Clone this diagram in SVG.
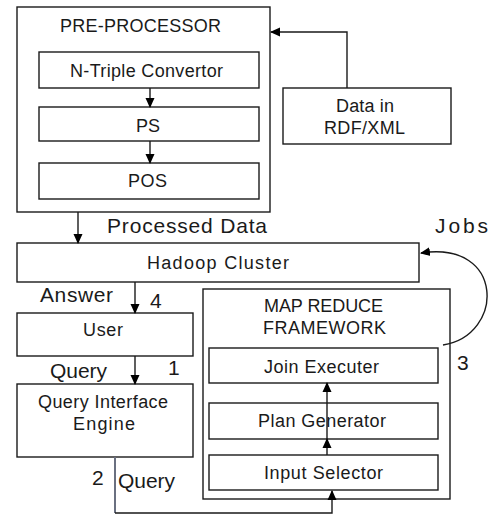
<svg xmlns="http://www.w3.org/2000/svg" width="491" height="515" viewBox="0 0 491 515">
<defs>
<marker id="ah" markerWidth="10" markerHeight="10" refX="9" refY="4.5" orient="auto" markerUnits="userSpaceOnUse" viewBox="0 0 10 9">
<path d="M0,0 L10,4.5 L0,9 z" fill="#000"/>
</marker>
<style>
.box{fill:#fff;stroke:#1a1a1a;stroke-width:1.4}
.c{fill:none;stroke:#1a1a1a;stroke-width:1.4}
.t{font-family:"Liberation Sans",Arial,sans-serif;font-size:18px;fill:#1a1a1a;text-anchor:middle}
.l{font-family:"Liberation Sans",Arial,sans-serif;font-size:21px;fill:#1a1a1a}
</style>
</defs>
<rect width="491" height="515" fill="#fff"/>
<g id="preprocessor">
<rect class="box" x="17" y="7" width="253" height="205"/>
<text class="t" x="140.5" y="32" textLength="161" lengthAdjust="spacing">PRE-PROCESSOR</text>
</g>
<g id="ntriple">
<rect class="box" x="39" y="52" width="220" height="36"/>
<text class="t" x="146.5" y="77" textLength="153" lengthAdjust="spacing">N-Triple Convertor</text>
</g>
<g id="ps">
<rect class="box" x="39" y="107" width="220" height="34"/>
<text class="t" x="148" y="132">PS</text>
</g>
<g id="pos">
<rect class="box" x="39" y="163" width="220" height="36"/>
<text class="t" x="147.5" y="187" textLength="39" lengthAdjust="spacing">POS</text>
</g>
<g id="data">
<rect class="box" x="283" y="88" width="168" height="56"/>
<text class="t" x="365" y="112" textLength="58" lengthAdjust="spacing">Data in</text>
<text class="t" x="364.5" y="134" textLength="81" lengthAdjust="spacing">RDF/XML</text>
</g>
<g id="hadoop">
<rect class="box" x="17" y="243" width="402" height="39"/>
<text class="t" x="218" y="269" textLength="142" lengthAdjust="spacing">Hadoop Cluster</text>
</g>
<g id="user">
<rect class="box" x="17" y="313" width="176" height="43"/>
<text class="t" x="103" y="336" textLength="40" lengthAdjust="spacing">User</text>
</g>
<g id="qie">
<rect class="box" x="17" y="384" width="176" height="73"/>
<text class="t" x="103" y="408" textLength="130" lengthAdjust="spacing">Query Interface</text>
<text class="t" x="104" y="430" textLength="62" lengthAdjust="spacing">Engine</text>
</g>
<g id="mapreduce">
<rect class="box" x="203" y="289" width="247" height="210"/>
<text class="t" x="323.5" y="312" textLength="119" lengthAdjust="spacing">MAP REDUCE</text>
<text class="t" x="324.5" y="334" textLength="123" lengthAdjust="spacing">FRAMEWORK</text>
</g>
<g id="join">
<rect class="box" x="209" y="348" width="229" height="35"/>
<text class="t" x="321.5" y="373" textLength="115" lengthAdjust="spacing">Join Executer</text>
</g>
<g id="plan">
<rect class="box" x="209" y="403" width="229" height="36"/>
<text class="t" x="322" y="427" textLength="128" lengthAdjust="spacing">Plan Generator</text>
</g>
<g id="input">
<rect class="box" x="209" y="455" width="229" height="35"/>
<text class="t" x="323.5" y="479" textLength="119" lengthAdjust="spacing">Input Selector</text>
</g>
<g id="connectors">
<line class="c" x1="150" y1="88" x2="150" y2="107" marker-end="url(#ah)"/>
<line class="c" x1="150" y1="141" x2="150" y2="163" marker-end="url(#ah)"/>
<polyline class="c" points="347,88 347,32 271,32" marker-end="url(#ah)"/>
<line class="c" x1="78" y1="212" x2="78" y2="243" marker-end="url(#ah)"/>
<line class="c" x1="135" y1="282" x2="135" y2="313" marker-end="url(#ah)"/>
<line class="c" x1="135" y1="356" x2="135" y2="384" marker-end="url(#ah)"/>
<line class="c" x1="327" y1="439" x2="327" y2="383" marker-end="url(#ah)"/>
<line class="c" x1="327" y1="455" x2="327" y2="439" marker-end="url(#ah)"/>
<line x1="115" y1="457" x2="115" y2="513" stroke="#6a7080" stroke-width="2"/>
<polyline class="c" points="115,513 332,513 332,491" marker-end="url(#ah)"/>
<path class="c" d="M443,345 C505,335 505,240 421,253" marker-end="url(#ah)"/>
<text class="l" x="107" y="233" textLength="160" lengthAdjust="spacing">Processed Data</text>
<text class="l" x="435" y="233" textLength="53" lengthAdjust="spacing">Jobs</text>
<text class="l" x="40" y="302" textLength="73" lengthAdjust="spacing">Answer</text>
<text class="l" x="150" y="308" font-size="19">4</text>
<text class="l" x="50" y="378" textLength="57" lengthAdjust="spacing">Query</text>
<text class="l" x="168" y="375" font-size="19">1</text>
<text class="l" x="92" y="485" font-size="19">2</text>
<text class="l" x="118" y="488" textLength="57" lengthAdjust="spacing">Query</text>
<text class="l" x="457" y="370" font-size="19">3</text>
</g>
</svg>
